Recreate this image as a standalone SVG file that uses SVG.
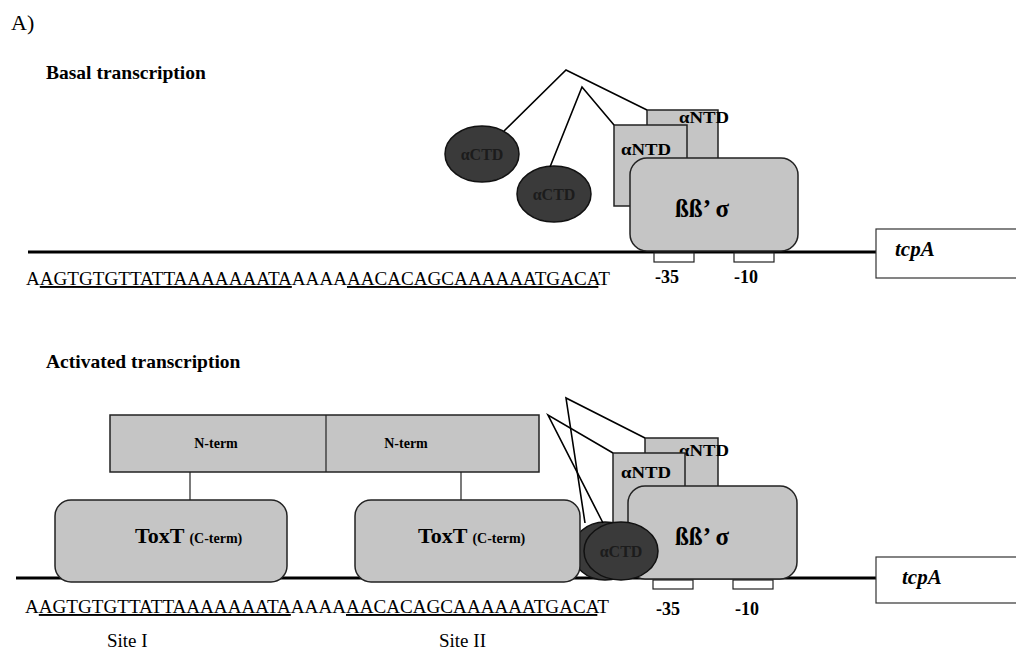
<svg xmlns="http://www.w3.org/2000/svg" width="1016" height="652" viewBox="0 0 1016 652">
<style>
.bg{fill:#ffffff}
.dna{stroke:#000;stroke-width:3;fill:none}
.box{fill:#c5c5c5;stroke:#222;stroke-width:1.5}
.dark{fill:#3a3a3a;stroke:#111;stroke-width:1.5}
.site{fill:#fff;stroke:#222;stroke-width:1.2}
.gene{fill:#fff;stroke:#333;stroke-width:1.2}
.ln{stroke:#000;stroke-width:1.6;fill:none}
.thin{stroke:#222;stroke-width:1.2;fill:none}
.serif{font-family:"Liberation Serif","Times New Roman",serif;fill:#000}
.title{font-family:"Liberation Serif","Times New Roman",serif;font-weight:bold;font-size:19.5px;fill:#000}
.seq{font-family:"Liberation Serif","Times New Roman",serif;font-size:19px;fill:#000}
.lbl{font-family:"Liberation Serif","Times New Roman",serif;font-weight:bold;fill:#000}
.ctd{font-family:"Liberation Serif","Times New Roman",serif;font-weight:bold;font-size:16px;fill:#1c1c1c;text-anchor:middle}
.gname{font-family:"Liberation Serif","Times New Roman",serif;font-weight:bold;font-style:italic;font-size:21px;fill:#000}
</style>
<rect class="bg" x="0" y="0" width="1016" height="652"/>

<text class="serif" x="11" y="30" font-size="22">A)</text>
<text class="title" x="46" y="79">Basal transcription</text>
<text class="title" x="46" y="368">Activated transcription</text>

<!-- DNA lines and genes -->
<g id="dna-top">
<line class="dna" x1="28" y1="252" x2="876" y2="252"/>
<rect class="site" x="654" y="253" width="40" height="9"/>
<rect class="site" x="734" y="253" width="40" height="9"/>
<text class="lbl" x="655" y="283" font-size="18">-35</text>
<text class="lbl" x="734" y="283" font-size="18">-10</text>
<text class="seq" x="26" y="285" textLength="584" lengthAdjust="spacingAndGlyphs">A<tspan text-decoration="underline">AGTGTGTTATTAAAAAAATA</tspan>AAAA<tspan text-decoration="underline">AACACAGCAAAAAATGACA</tspan>T</text>
</g>
<g id="tcpA-top">
<rect class="gene" x="876" y="229" width="150" height="49"/>
<text class="gname" x="895" y="256">tcpA</text>
</g>

<g id="dna-bottom">
<line class="dna" x1="16" y1="578" x2="876" y2="578"/>
<rect class="site" x="653" y="580" width="40" height="9"/>
<rect class="site" x="733" y="580" width="40" height="9"/>
<text class="lbl" x="656" y="615" font-size="18">-35</text>
<text class="lbl" x="735" y="615" font-size="18">-10</text>
<text class="seq" x="25" y="613" textLength="584" lengthAdjust="spacingAndGlyphs">A<tspan text-decoration="underline">AGTGTGTTATTAAAAAAATA</tspan>AAAA<tspan text-decoration="underline">AACACAGCAAAAAATGACA</tspan>T</text>
<text class="seq" x="107" y="647">Site I</text>
<text class="seq" x="439" y="647">Site II</text>
</g>
<g id="tcpA-bottom">
<rect class="gene" x="876" y="557" width="150" height="46"/>
<text class="gname" x="902" y="584">tcpA</text>
</g>

<!-- Basal transcription RNAP -->
<g id="actd1-top">
<ellipse class="dark" cx="482" cy="154" rx="37" ry="28"/>
<text class="ctd" x="482" y="160">αCTD</text>
</g>
<g id="actd2-top">
<ellipse class="dark" cx="554" cy="194" rx="37" ry="28"/>
<text class="ctd" x="554" y="200">αCTD</text>
</g>
<g id="antd1-top">
<rect class="box" x="647" y="110" width="71" height="60"/>
<text class="lbl" x="679" y="123" font-size="17" textLength="50" lengthAdjust="spacingAndGlyphs">αNTD</text>
</g>
<g id="antd2-top">
<rect class="box" x="614" y="125" width="73" height="81"/>
<text class="lbl" x="621" y="155" font-size="17" textLength="50" lengthAdjust="spacingAndGlyphs">αNTD</text>
</g>
<g id="core-top">
<rect class="box" x="630" y="158" width="168" height="93" rx="17"/>
<text class="lbl" x="702" y="217" font-size="25" text-anchor="middle">ßß’ σ</text>
</g>

<!-- Activated transcription -->
<g id="nterm-bar">
<rect class="box" x="110" y="415" width="429" height="57"/>
<line class="thin" x1="326" y1="415" x2="326" y2="472"/>
<text class="lbl" x="216" y="448" font-size="14" text-anchor="middle">N-term</text>
<text class="lbl" x="406" y="448" font-size="14" text-anchor="middle">N-term</text>
</g>
<g id="actd-back">
<ellipse class="dark" cx="605" cy="551" rx="33" ry="29"/>
</g>
<g id="toxt1">
<rect class="box" x="55" y="500" width="232" height="82" rx="16"/>
<text class="lbl" x="135" y="543" font-size="22">ToxT <tspan font-size="14">(C-term)</tspan></text>
</g>
<g id="toxt2">
<rect class="box" x="355" y="500" width="225" height="82" rx="16"/>
<text class="lbl" x="418" y="543" font-size="22">ToxT <tspan font-size="14">(C-term)</tspan></text>
</g>
<g id="antd1-bottom">
<rect class="box" x="645" y="438" width="73" height="60"/>
<text class="lbl" x="679" y="456" font-size="17" textLength="50" lengthAdjust="spacingAndGlyphs">αNTD</text>
</g>
<g id="antd2-bottom">
<rect class="box" x="613" y="453" width="72" height="80"/>
<text class="lbl" x="621" y="478" font-size="17" textLength="50" lengthAdjust="spacingAndGlyphs">αNTD</text>
</g>
<g id="core-bottom">
<rect class="box" x="628" y="486" width="169" height="93" rx="17"/>
<text class="lbl" x="702" y="545" font-size="25" text-anchor="middle">ßß’ σ</text>
</g>
<g id="actd-front">
<ellipse class="dark" cx="621" cy="551" rx="37" ry="29"/>
<text class="ctd" x="621" y="557">αCTD</text>
</g>

<g id="connectors">
<polyline class="ln" points="504,131 566,70 647,110"/>
<polyline class="ln" points="550,167 582,87 614,125"/>
<line class="thin" x1="190" y1="472" x2="190" y2="500"/>
<line class="thin" x1="461" y1="472" x2="461" y2="500"/>
<polyline class="ln" points="585,523 566,398 645,438"/>
<polyline class="ln" points="603,523 548,415 613,453"/>
</g>
</svg>
